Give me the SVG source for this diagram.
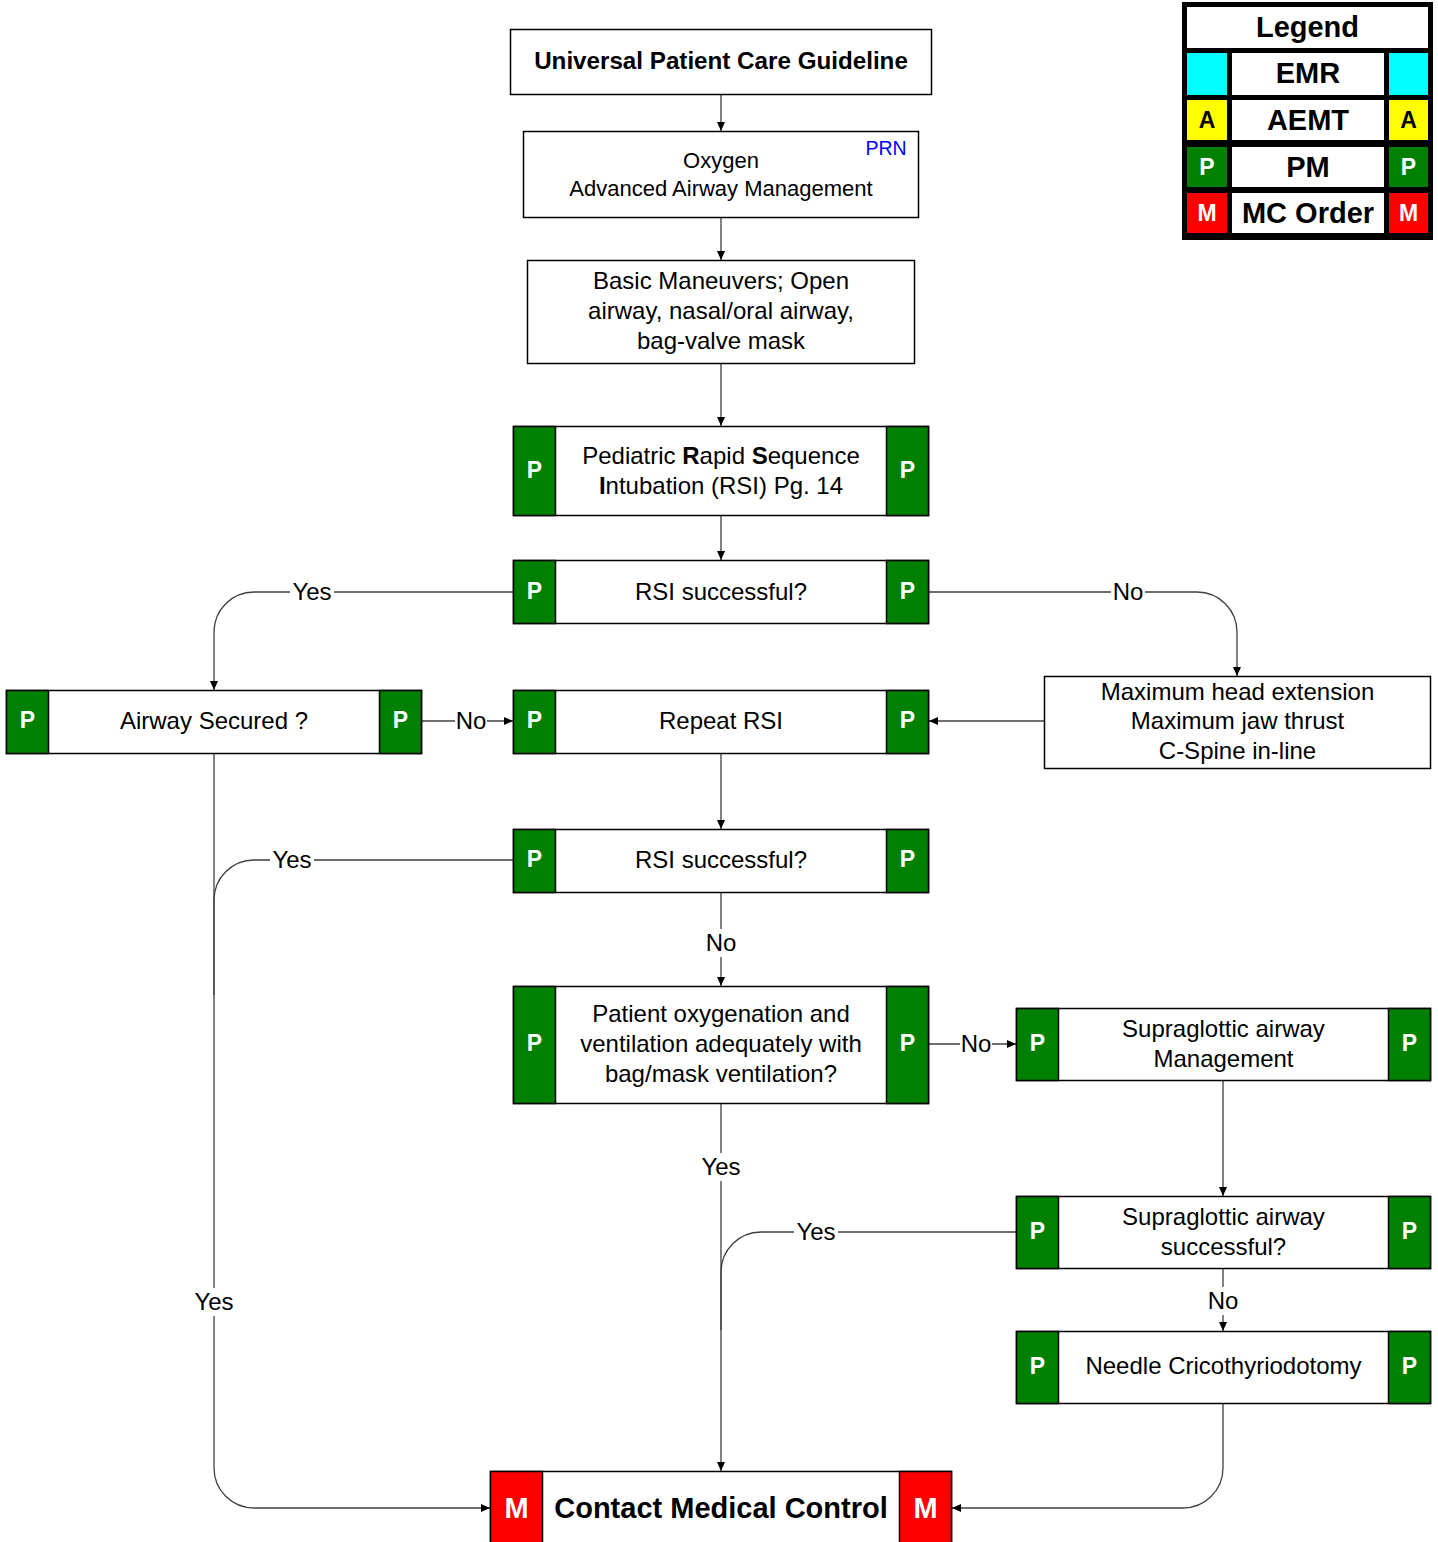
<svg xmlns="http://www.w3.org/2000/svg" width="1438" height="1542" viewBox="0 0 1438 1542">
<defs>
<style>
.box{fill:#fff;stroke:#000;stroke-width:1.5}
.pc{fill:#008000;stroke:#000;stroke-width:1.5}
.mc{fill:#f00;stroke:#000;stroke-width:1.5}
.t{font-family:"Liberation Sans",Arial,sans-serif;font-size:24px;fill:#000;text-anchor:middle}
.t20{font-size:22px}
.prn{font-size:19.5px;fill:#0000ff}
.tb{font-family:"Liberation Sans",Arial,sans-serif;font-weight:bold;fill:#000;text-anchor:middle}
.pl{font-family:"Liberation Sans",Arial,sans-serif;font-weight:bold;font-size:23px;fill:#fff;text-anchor:middle}
.ml{font-family:"Liberation Sans",Arial,sans-serif;font-weight:bold;font-size:29px;fill:#fff;text-anchor:middle}
.ln{fill:none;stroke:#404040;stroke-width:1.3}
.lb{fill:#fff;stroke:none}
.b{font-weight:bold}
</style>
<marker id="ah" markerUnits="userSpaceOnUse" markerWidth="10" markerHeight="10" refX="9" refY="4" orient="auto">
<path d="M0,0 L9,4 L0,8 z" fill="#000"/>
</marker>
</defs>
<rect width="1438" height="1542" fill="#fff"/>

<g id="connectors">
<path class="ln" d="M721,95 V131" marker-end="url(#ah)"/>
<path class="ln" d="M721,218 V260" marker-end="url(#ah)"/>
<path class="ln" d="M721,364 V426" marker-end="url(#ah)"/>
<path class="ln" d="M721,516 V560" marker-end="url(#ah)"/>
<path class="ln" d="M513,592 H254 A40,40 0 0 0 214,632 V690" marker-end="url(#ah)"/>
<path class="ln" d="M929,592 H1197 A40,40 0 0 1 1237,632 V676" marker-end="url(#ah)"/>
<path class="ln" d="M422,721 H513" marker-end="url(#ah)"/>
<path class="ln" d="M1044,721 H929" marker-end="url(#ah)"/>
<path class="ln" d="M721,753 V829" marker-end="url(#ah)"/>
<path class="ln" d="M513,860 H254 A40,40 0 0 0 214,900 V995"/>
<path class="ln" d="M214,753 V1468 A40,40 0 0 0 254,1508 H490" marker-end="url(#ah)"/>
<path class="ln" d="M721,892 V986" marker-end="url(#ah)"/>
<path class="ln" d="M929,1044 H1016" marker-end="url(#ah)"/>
<path class="ln" d="M721,1103 V1471" marker-end="url(#ah)"/>
<path class="ln" d="M1223,1080 V1196" marker-end="url(#ah)"/>
<path class="ln" d="M1016,1232 H761 A40,40 0 0 0 721,1272 V1330"/>
<path class="ln" d="M1223,1268 V1331" marker-end="url(#ah)"/>
<path class="ln" d="M1223,1403 V1468 A40,40 0 0 1 1183,1508 H952" marker-end="url(#ah)"/>
<g id="labels">
<rect class="lb" x="290" y="579" width="44" height="26"/><text class="t" x="312" y="600">Yes</text>
<rect class="lb" x="1111" y="579" width="34" height="26"/><text class="t" x="1128" y="600">No</text>
<rect class="lb" x="455" y="708" width="32" height="26"/><text class="t" x="471" y="729">No</text>
<rect class="lb" x="270" y="847" width="44" height="26"/><text class="t" x="292" y="868">Yes</text>
<rect class="lb" x="192" y="1288" width="44" height="28"/><text class="t" x="214" y="1310">Yes</text>
<rect class="lb" x="704" y="929" width="34" height="28"/><text class="t" x="721" y="951">No</text>
<rect class="lb" x="960" y="1031" width="32" height="26"/><text class="t" x="976" y="1052">No</text>
<rect class="lb" x="699" y="1153" width="44" height="28"/><text class="t" x="721" y="1175">Yes</text>
<rect class="lb" x="794" y="1219" width="44" height="26"/><text class="t" x="816" y="1240">Yes</text>
<rect class="lb" x="1206" y="1287" width="34" height="28"/><text class="t" x="1223" y="1309">No</text>
</g>
</g>

<g id="n-universal">
<rect class="box" x="510.5" y="29.5" width="421" height="65"/>
<text class="tb" x="721" y="69" font-size="24.2">Universal Patient Care Guideline</text>
</g>

<g id="n-oxygen">
<rect class="box" x="523.5" y="131.5" width="395" height="86"/>
<text class="t t20" x="721" y="167.5">Oxygen</text>
<text class="t t20" x="721" y="195.5">Advanced Airway Management</text>
<text class="t prn" x="886" y="155">PRN</text>
</g>

<g id="n-basic">
<rect class="box" x="527.5" y="260.5" width="387" height="103"/>
<text class="t" x="721" y="289">Basic Maneuvers; Open</text>
<text class="t" x="721" y="319">airway, nasal/oral airway,</text>
<text class="t" x="721" y="349">bag-valve mask</text>
</g>

<g id="n-rsi">
<rect class="box" x="513.5" y="426.5" width="415" height="89"/>
<rect class="pc" x="513.5" y="426.5" width="42" height="89"/>
<rect class="pc" x="886.5" y="426.5" width="42" height="89"/>
<text class="pl" x="534.5" y="478">P</text>
<text class="pl" x="907.5" y="478">P</text>
<text class="t" x="721" y="464">Pediatric <tspan class="b">R</tspan>apid <tspan class="b">S</tspan>equence</text>
<text class="t" x="721" y="494"><tspan class="b">I</tspan>ntubation (RSI) Pg. 14</text>
</g>

<g id="n-rsi-success-1">
<rect class="box" x="513.5" y="560.5" width="415" height="63"/>
<rect class="pc" x="513.5" y="560.5" width="42" height="63"/>
<rect class="pc" x="886.5" y="560.5" width="42" height="63"/>
<text class="pl" x="534.5" y="599">P</text>
<text class="pl" x="907.5" y="599">P</text>
<text class="t" x="721" y="600">RSI successful?</text>
</g>

<g id="n-airway-secured">
<rect class="box" x="6.5" y="690.5" width="415" height="63"/>
<rect class="pc" x="6.5" y="690.5" width="42" height="63"/>
<rect class="pc" x="379.5" y="690.5" width="42" height="63"/>
<text class="pl" x="27.5" y="728">P</text>
<text class="pl" x="400.5" y="728">P</text>
<text class="t" x="214" y="729">Airway Secured ?</text>
</g>

<g id="n-repeat-rsi">
<rect class="box" x="513.5" y="690.5" width="415" height="63"/>
<rect class="pc" x="513.5" y="690.5" width="42" height="63"/>
<rect class="pc" x="886.5" y="690.5" width="42" height="63"/>
<text class="pl" x="534.5" y="728">P</text>
<text class="pl" x="907.5" y="728">P</text>
<text class="t" x="721" y="729">Repeat RSI</text>
</g>

<g id="n-max-head">
<rect class="box" x="1044.5" y="676.5" width="386" height="92"/>
<text class="t" x="1237.5" y="700">Maximum head extension</text>
<text class="t" x="1237.5" y="729">Maximum jaw thrust</text>
<text class="t" x="1237.5" y="759">C-Spine in-line</text>
</g>

<g id="n-rsi-success-2">
<rect class="box" x="513.5" y="829.5" width="415" height="63"/>
<rect class="pc" x="513.5" y="829.5" width="42" height="63"/>
<rect class="pc" x="886.5" y="829.5" width="42" height="63"/>
<text class="pl" x="534.5" y="867">P</text>
<text class="pl" x="907.5" y="867">P</text>
<text class="t" x="721" y="868">RSI successful?</text>
</g>

<g id="n-patient-oxygenation">
<rect class="box" x="513.5" y="986.5" width="415" height="117"/>
<rect class="pc" x="513.5" y="986.5" width="42" height="117"/>
<rect class="pc" x="886.5" y="986.5" width="42" height="117"/>
<text class="pl" x="534.5" y="1051">P</text>
<text class="pl" x="907.5" y="1051">P</text>
<text class="t" x="721" y="1022">Patient oxygenation and</text>
<text class="t" x="721" y="1052">ventilation adequately with</text>
<text class="t" x="721" y="1082">bag/mask ventilation?</text>
</g>

<g id="n-supraglottic-mgmt">
<rect class="box" x="1016.5" y="1008.5" width="414" height="72"/>
<rect class="pc" x="1016.5" y="1008.5" width="42" height="72"/>
<rect class="pc" x="1388.5" y="1008.5" width="42" height="72"/>
<text class="pl" x="1037.5" y="1051">P</text>
<text class="pl" x="1409.5" y="1051">P</text>
<text class="t" x="1223.5" y="1037">Supraglottic airway</text>
<text class="t" x="1223.5" y="1067">Management</text>
</g>

<g id="n-supraglottic-success">
<rect class="box" x="1016.5" y="1196.5" width="414" height="72"/>
<rect class="pc" x="1016.5" y="1196.5" width="42" height="72"/>
<rect class="pc" x="1388.5" y="1196.5" width="42" height="72"/>
<text class="pl" x="1037.5" y="1239">P</text>
<text class="pl" x="1409.5" y="1239">P</text>
<text class="t" x="1223.5" y="1225">Supraglottic airway</text>
<text class="t" x="1223.5" y="1255">successful?</text>
</g>

<g id="n-needle">
<rect class="box" x="1016.5" y="1331.5" width="414" height="72"/>
<rect class="pc" x="1016.5" y="1331.5" width="42" height="72"/>
<rect class="pc" x="1388.5" y="1331.5" width="42" height="72"/>
<text class="pl" x="1037.5" y="1374">P</text>
<text class="pl" x="1409.5" y="1374">P</text>
<text class="t" x="1223.5" y="1374">Needle Cricothyriodotomy</text>
</g>

<g id="n-contact-mc">
<rect class="box" x="490.5" y="1471.5" width="461" height="80"/>
<rect class="mc" x="490.5" y="1471.5" width="52" height="80"/>
<rect class="mc" x="899.5" y="1471.5" width="52" height="80"/>
<text class="ml" x="516.5" y="1518">M</text>
<text class="ml" x="925.5" y="1518">M</text>
<text class="tb" x="721" y="1518" font-size="29">Contact Medical Control</text>
</g>

<g id="legend">
<rect x="1182" y="2" width="251" height="238" fill="#000"/>
<rect x="1187" y="7" width="241" height="41" fill="#fff"/>
<text class="tb" x="1307.5" y="37" font-size="29">Legend</text>
<rect x="1187" y="53" width="40" height="42" fill="#0ff"/>
<rect x="1232" y="53" width="152" height="42" fill="#fff"/>
<rect x="1389" y="53" width="39" height="42" fill="#0ff"/>
<text class="tb" x="1308" y="83" font-size="29">EMR</text>
<rect x="1187" y="100" width="40" height="40" fill="#ff0"/>
<rect x="1232" y="100" width="152" height="40" fill="#fff"/>
<rect x="1389" y="100" width="39" height="40" fill="#ff0"/>
<text class="tb" x="1207" y="128" font-size="23">A</text>
<text class="tb" x="1308" y="130" font-size="29">AEMT</text>
<text class="tb" x="1408.5" y="128" font-size="23">A</text>
<rect x="1187" y="147" width="40" height="40" fill="#008000"/>
<rect x="1232" y="147" width="152" height="40" fill="#fff"/>
<rect x="1389" y="147" width="39" height="40" fill="#008000"/>
<text class="pl" x="1207" y="175">P</text>
<text class="tb" x="1308" y="177" font-size="29">PM</text>
<text class="pl" x="1408.5" y="175">P</text>
<rect x="1187" y="193" width="40" height="40" fill="#f00"/>
<rect x="1232" y="193" width="152" height="40" fill="#fff"/>
<rect x="1389" y="193" width="39" height="40" fill="#f00"/>
<text class="pl" x="1207" y="221">M</text>
<text class="tb" x="1308" y="223" font-size="29">MC Order</text>
<text class="pl" x="1408.5" y="221">M</text>
</g>
</svg>
